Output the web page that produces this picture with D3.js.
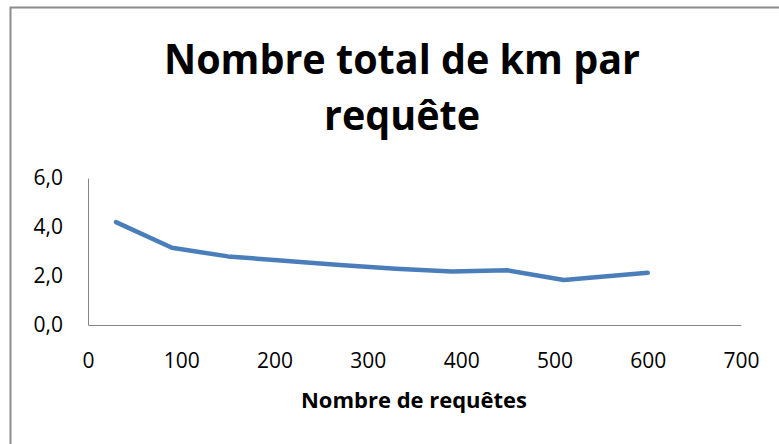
<!DOCTYPE html>
<html>
<head>
<meta charset="utf-8">
<script src="https://cdn.jsdelivr.net/npm/d3@7"></script>
<style>
  body { margin: 0; background: #fff; }
  svg text { font-family: "Open Sans", "Liberation Sans", sans-serif; fill: #000; }
</style>
</head>
<body>
<svg id="chart" width="779" height="444"></svg>
<script>
// Data
var requetes = [30, 90, 150, 210, 270, 330, 390, 450, 510, 600];
var kmParRequete = [4.2, 3.15, 2.8, 2.62, 2.45, 2.3, 2.18, 2.23, 1.84, 2.13];
var xTicks = [0, 100, 200, 300, 400, 500, 600, 700];
var yTicks = [0, 2, 4, 6];
var titleLines = ["Nombre total de km par", "requête"];
var xTitle = "Nombre de requêtes";

var svg = d3.select("#chart");

// frame
svg.append("rect")
  .attr("x", 10.5).attr("y", 7.5)
  .attr("width", 800).attr("height", 500)
  .attr("fill", "none")
  .attr("stroke", "#8c8c8c")
  .attr("stroke-width", 2);

var x = d3.scaleLinear().domain([0, 700]).range([88, 741]);
var y = d3.scaleLinear().domain([0, 6]).range([325, 178]);

// title (narrow font in the original, so squeeze a bit)
var titleWidths = [476, 156];
svg.append("g").selectAll("text")
  .data(titleLines)
  .enter().append("text")
  .attr("text-anchor", "middle")
  .attr("font-weight", "bold")
  .attr("font-size", 42)
  .attr("x", 402)
  .attr("y", function(d, i) { return 74 + i * 56; })
  .attr("textLength", function(d, i) { return titleWidths[i]; })
  .attr("lengthAdjust", "spacingAndGlyphs")
  .text(function(d) { return d; });

// axes
var fmt = function(d) { return d3.format(".1f")(d).replace(".", ","); };

var yAxis = svg.append("g")
  .attr("transform", "translate(" + x(0) + ",0)")
  .call(d3.axisLeft(y).tickValues(yTicks).tickSize(0).tickPadding(25).tickFormat(fmt));
yAxis.select(".domain").attr("stroke", "#868686");
yAxis.selectAll("text").attr("font-size", 21).style("font-family", "'Open Sans', sans-serif");

var xAxis = svg.append("g")
  .attr("transform", "translate(0," + y(0) + ")")
  .call(d3.axisBottom(x).tickValues(xTicks).tickSize(0).tickPadding(28).tickFormat(d3.format("d")));
xAxis.select(".domain").attr("stroke", "#868686");
xAxis.selectAll("text").attr("font-size", 21).style("font-family", "'Open Sans', sans-serif");

// x title
svg.append("text")
  .attr("x", 414)
  .attr("y", 408)
  .attr("text-anchor", "middle")
  .attr("font-weight", "bold")
  .attr("font-size", 21)
  .attr("textLength", 226)
  .attr("lengthAdjust", "spacingAndGlyphs")
  .text(xTitle);

// line
var line = d3.line()
  .x(function(d, i) { return x(requetes[i]); })
  .y(function(d) { return y(d); });

svg.append("path")
  .datum(kmParRequete)
  .attr("d", line)
  .attr("fill", "none")
  .attr("stroke", "#4a7ebb")
  .attr("stroke-width", 4.5)
  .attr("stroke-linecap", "round")
  .attr("stroke-linejoin", "round");
</script>
</body>
</html>
